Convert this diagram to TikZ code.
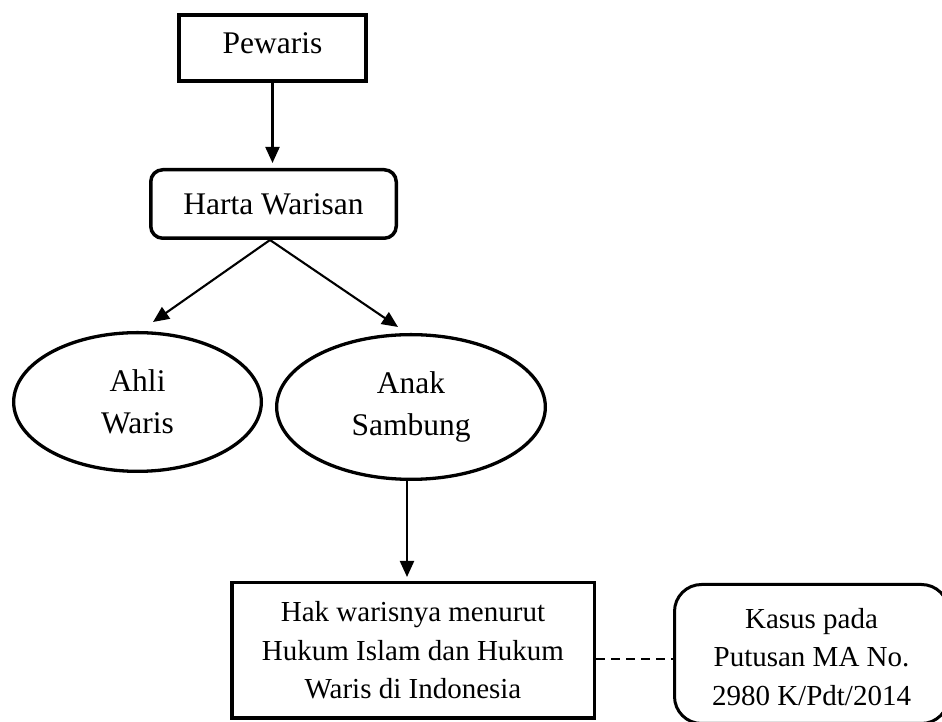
\documentclass[tikz,border=0pt]{standalone}
\usepackage{fontspec}
\setmainfont{Liberation Serif}
\usetikzlibrary{shapes.geometric,arrows.meta,calc}
\begin{document}
\begin{tikzpicture}[x=1pt,y=1pt,
  bigfont/.style={font=\fontsize{31.5}{42}\selectfont},
  smallfont/.style={font=\fontsize{29}{38.5}\selectfont},
  arr/.style={line width=2.1pt,-{Triangle[length=16pt,width=14pt]}},
  sqbox/.style={draw,rectangle,inner sep=0pt,align=center},
  rbox/.style={draw,rectangle,rounded corners,inner sep=0pt,align=center},
  oval/.style={draw,ellipse,inner sep=0pt,align=center,line width=3.3pt,bigfont}]
\useasboundingbox (0,0) rectangle (942,722);
\clip (0,0) rectangle (942,722);

\node[sqbox,bigfont,line width=4pt,minimum width=187pt,minimum height=66pt,text depth=9pt] (pewaris) at (272.5,674) {Pewaris};
\node[rbox,bigfont,line width=3.5pt,rounded corners=12pt,minimum width=245.5pt,minimum height=68.5pt] (harta) at (273.5,518) {Harta Warisan};
\node[oval,minimum width=247.7pt,minimum height=138.7pt] (ahli) at (137.5,320) {Ahli\\Waris};
\node[oval,minimum width=268.7pt,minimum height=144.7pt] (anak) at (411,315) {Anak\\Sambung};
\node[sqbox,smallfont,line width=3.5pt,minimum width=362.5pt,minimum height=135.5pt] (hak) at (413,71.5) {Hak warisnya menurut\\Hukum Islam dan Hukum\\Waris di Indonesia};
\node[rbox,line width=3pt,rounded corners=27pt,minimum width=274pt,minimum height=139pt] (kasus) at (811.5,68) {};
\node[smallfont,align=center,inner sep=0pt] (kasustext) at ([yshift=-3pt]kasus.center) {Kasus pada\\Putusan MA No.\\2980 K/Pdt/2014};

\draw[arr,shorten >=5pt] (pewaris.south) -- (pewaris.south |- harta.north);
\draw[arr] ([xshift=-3.5pt]harta.south) -- ($(ahli.north)+(15.5,9)$);
\draw[arr] ([xshift=-3.5pt]harta.south) -- ($(anak.north)+(-13,6)$);
\draw[arr,shorten >=4pt] ([xshift=-4pt]anak.south) -- ([xshift=-4pt]anak.south |- hak.north);
\draw[line width=2.6pt,dash pattern=on 9pt off 6pt] ([yshift=-8.5pt]hak.east) -- ([yshift=-8.5pt]hak.east -| kasus.west);
\end{tikzpicture}
\end{document}
